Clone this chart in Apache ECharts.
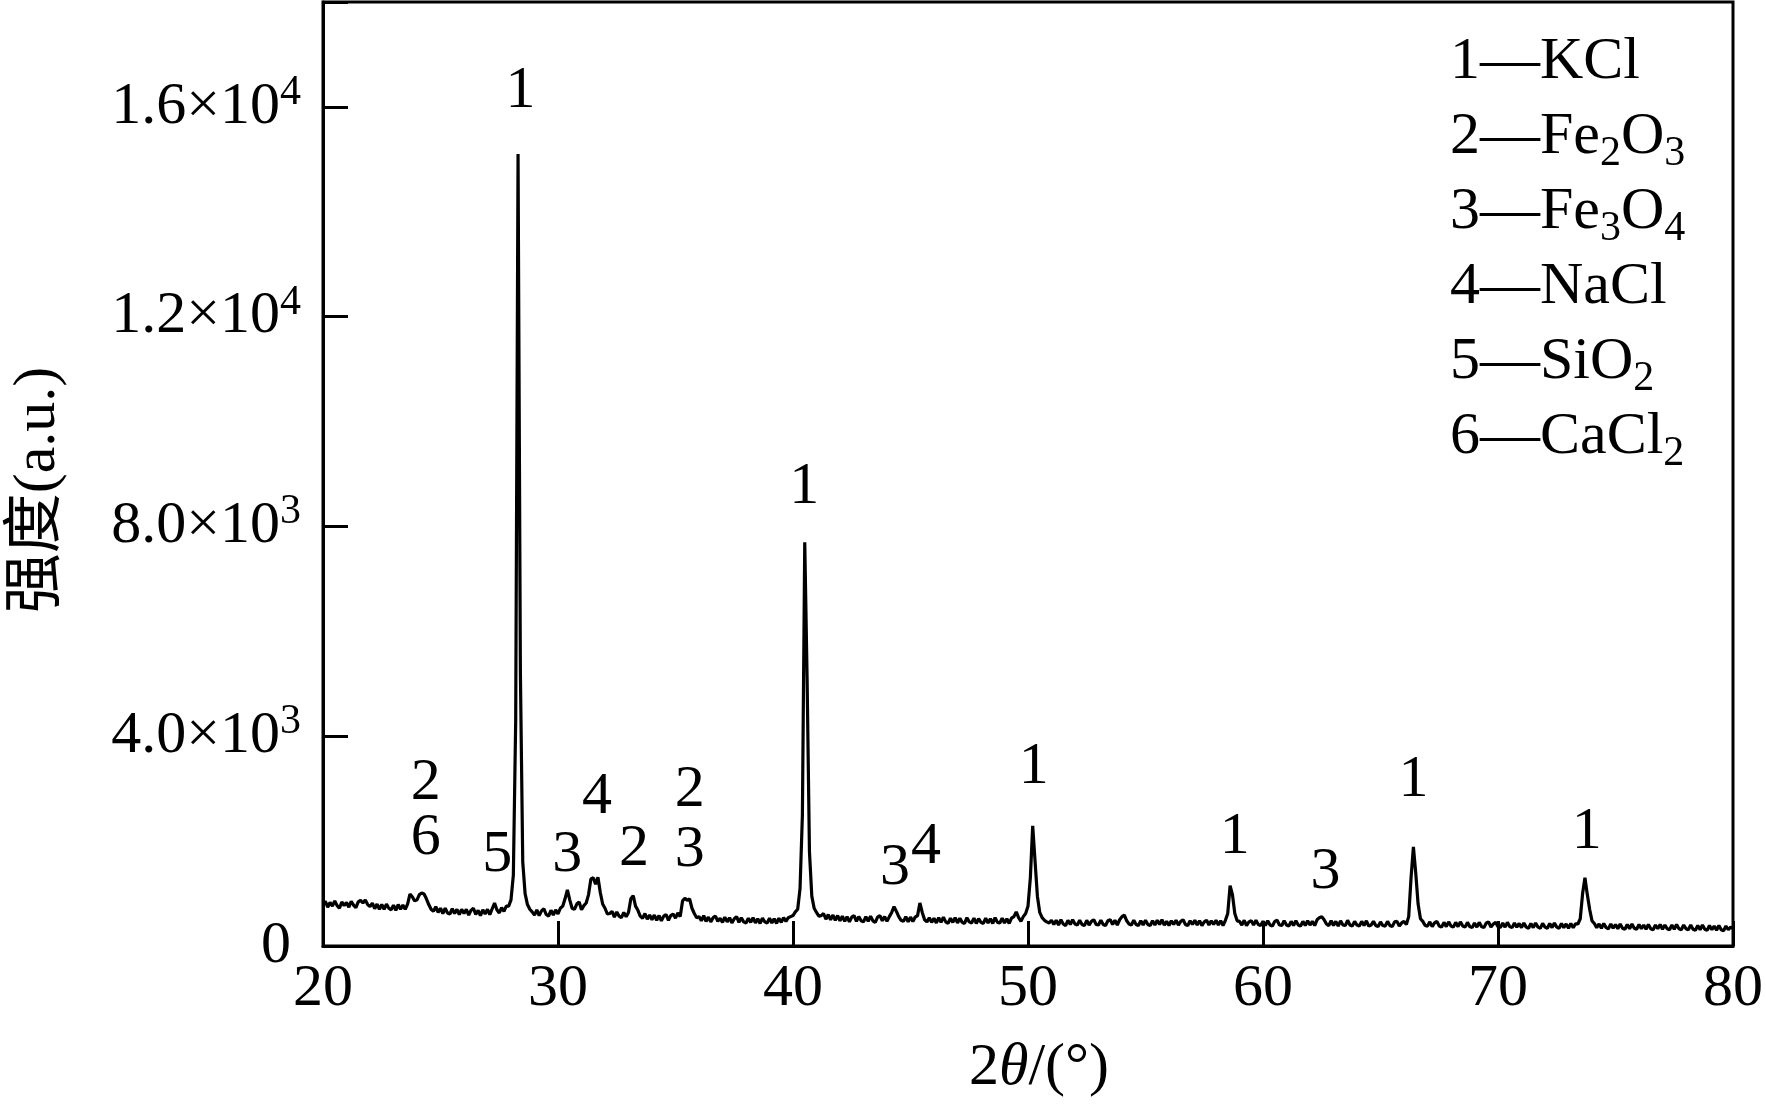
<!DOCTYPE html>
<html><head><meta charset="utf-8">
<script src="https://cdn.jsdelivr.net/npm/echarts@6/dist/echarts.min.js"></script>
<style>html,body{margin:0;padding:0;background:#fff}#c{width:1766px;height:1107px}</style>
</head><body><div id="c"></div><script>
// XRD scan: 2theta from 20 to 80 deg, step 0.1 deg
const scanStart = 20.0;
const scanStep = 0.1;
const counts = [
  800, 850, 740, 830, 760, 860, 770, 720, 840, 770,
  830, 740, 850, 780, 730, 840, 870, 820, 880, 790,
  750, 820, 710, 800, 700, 790, 700, 800, 720, 690,
  780, 680, 790, 700, 780, 700, 800, 990, 940, 860,
  880, 980, 1010, 990, 900, 790, 700, 660, 750, 640,
  720, 620, 720, 630, 610, 710, 620, 700, 600, 700,
  620, 700, 590, 680, 720, 600, 680, 580, 690, 610,
  700, 600, 710, 820, 690, 630, 730, 660, 760, 760,
  880, 1350, 4300, 15100, 5200, 1600, 1000, 790, 700, 650,
  590, 690, 580, 670, 710, 600, 570, 680, 590, 690,
  610, 720, 760, 900, 1070, 880, 720, 700, 800, 840,
  690, 770, 820, 980, 1280, 1300, 1180, 1310, 1020, 800,
  720, 610, 620, 660, 550, 650, 570, 540, 640, 560,
  640, 900, 960, 760, 680, 570, 530, 620, 510, 590,
  500, 590, 490, 580, 480, 570, 600, 490, 580, 610,
  530, 630, 560, 860, 910, 870, 900, 720, 620, 540,
  560, 480, 580, 470, 550, 460, 540, 570, 470, 530,
  450, 550, 460, 540, 440, 520, 560, 450, 540, 460,
  440, 530, 450, 540, 440, 520, 430, 530, 460, 440,
  530, 440, 520, 430, 530, 450, 540, 470, 540, 560,
  580, 650, 700, 1100, 2500, 7700, 5100, 1800, 950, 720,
  640, 570, 580, 620, 510, 600, 500, 590, 490, 580,
  480, 570, 470, 560, 460, 550, 580, 470, 560, 480,
  460, 560, 470, 570, 480, 450, 550, 580, 480, 560,
  470, 560, 640, 750, 660, 560, 490, 470, 560, 460,
  550, 470, 550, 580, 820, 640, 500, 460, 540, 450,
  530, 440, 540, 450, 550, 460, 430, 530, 450, 540,
  440, 530, 450, 430, 540, 460, 440, 530, 430, 520,
  450, 430, 530, 440, 520, 430, 540, 450, 440, 530,
  440, 520, 430, 530, 560, 650, 540, 470, 560, 620,
  760, 1300, 2290, 1620, 950, 640, 540, 490, 460, 440,
  490, 410, 490, 400, 500, 420, 390, 490, 410, 500,
  420, 400, 490, 410, 390, 490, 400, 470, 500, 410,
  400, 490, 410, 390, 480, 500, 410, 490, 400, 500,
  560, 590, 480, 420, 400, 490, 410, 390, 480, 400,
  490, 410, 390, 480, 400, 490, 410, 500, 400, 470,
  390, 480, 410, 490, 400, 470, 500, 410, 390, 480,
  410, 490, 400, 480, 390, 460, 490, 400, 480, 410,
  490, 400, 480, 390, 490, 620, 1150, 980, 620, 480,
  470, 400, 490, 390, 460, 480, 400, 490, 410, 390,
  470, 390, 480, 400, 380, 470, 490, 400, 390, 480,
  400, 380, 470, 390, 480, 400, 380, 470, 390, 480,
  400, 470, 390, 500, 540, 560, 500, 420, 390, 480,
  390, 470, 380, 480, 400, 390, 490, 400, 380, 470,
  400, 380, 470, 390, 480, 380, 400, 470, 390, 370,
  460, 390, 380, 470, 390, 370, 460, 470, 380, 440,
  470, 410, 560, 1300, 1890, 1390, 800, 520, 470, 390,
  380, 460, 370, 440, 470, 380, 360, 450, 370, 460,
  380, 360, 450, 370, 460, 380, 360, 450, 370, 350,
  440, 360, 450, 370, 350, 440, 460, 360, 420, 450,
  370, 350, 440, 360, 450, 370, 350, 440, 360, 430,
  350, 440, 360, 340, 430, 350, 440, 360, 340, 430,
  360, 340, 430, 350, 440, 360, 340, 430, 350, 420,
  340, 430, 350, 420, 420, 520, 1000, 1300, 980, 700,
  480, 430, 350, 420, 340, 430, 350, 330, 420, 340,
  410, 330, 420, 340, 320, 410, 330, 420, 340, 320,
  410, 330, 400, 320, 410, 330, 310, 400, 330, 410,
  320, 400, 330, 310, 400, 320, 410, 330, 310, 400,
  330, 310, 400, 320, 300, 390, 310, 400, 320, 300,
  390, 310, 380, 300, 390, 310, 290, 380, 310, 360,
  340
];

// axis ticks
const xTickValues = [20, 30, 40, 50, 60, 70, 80];
const yTickValues = [0, 4000, 8000, 12000, 16000];
const yTickMantissa = ['0', '4.0×10', '8.0×10', '1.2×10', '1.6×10'];
const yTickExponent = ['', '3', '3', '4', '4'];

// peak annotations (phase number, 2theta, intensity where the number sits)
const peakText  = ['1', '1', '1', '1', '1', '1', '2', '6', '5', '3', '4', '2', '2', '3', '3', '4', '3'];
const peakAngle = [28.40, 40.48, 50.24, 58.80, 66.40, 73.78, 24.37, 24.37, 27.42, 30.39, 31.66, 33.23, 35.61, 35.61, 44.34, 45.66, 62.66];
const peakLevel = [16290, 8750, 3410, 2080, 3170, 2170, 3110, 2060, 1735, 1735, 2840, 1850, 2975, 1830, 1490, 1890, 1410];

// phase legend
const phaseIds = ['1', '2', '3', '4', '5', '6'];
const phaseFormulas = ['KCl', 'Fe_2O_3', 'Fe_3O_4', 'NaCl', 'SiO_2', 'CaCl_2'];

const SERIF = '"Liberation Serif", "Times New Roman", "Noto Sans CJK SC", serif';

const scanData = counts.map((v, i) => [+(scanStart + i * scanStep).toFixed(2), v]);
const annotData = peakText.map((t, i) => ({ name: t, value: [peakAngle[i], peakLevel[i]] }));

function formulaRich(f) {
  return f.split(/(_\d)/).filter(s => s.length).map(s => s[0] === '_' ? '{b|' + s.slice(1) + '}' : '{n|' + s + '}').join('');
}
const legendText = phaseIds.map((id, i) => '{n|' + id + '—}' + formulaRich(phaseFormulas[i])).join('\n');

const chart = echarts.init(document.getElementById('c'), null, { renderer: 'canvas' });
chart.setOption({
  animation: false,
  backgroundColor: '#fff',
  grid: { left: 320, right: 32, top: 2, bottom: 161, show: true, borderColor: '#000', borderWidth: 3, containLabel: false },
  xAxis: {
    type: 'value', min: 20, max: 80, interval: 10,
    axisLine: { lineStyle: { color: '#000', width: 3 } },
    axisTick: { inside: true, length: 25, lineStyle: { color: '#000', width: 3 } },
    splitLine: { show: false },
    axisLabel: { margin: 13, color: '#000', fontFamily: SERIF, fontSize: 60, lineHeight: 60,
      formatter: v => xTickValues.indexOf(v) >= 0 ? String(v) : '' },
    name: '2{i|θ}/(°)', nameLocation: 'middle', nameGap: 92,
    nameTextStyle: { color: '#000', fontFamily: SERIF, fontSize: 60, lineHeight: 60, padding: [0, 0, 0, 22],
      rich: { i: { fontStyle: 'italic', fontFamily: SERIF, fontSize: 60, lineHeight: 60, color: '#000' } } }
  },
  yAxis: {
    type: 'value', min: 0, max: 18000, interval: 4000,
    axisLine: { lineStyle: { color: '#000', width: 3 } },
    axisTick: { inside: true, length: 25, lineStyle: { color: '#000', width: 3 } },
    splitLine: { show: false },
    axisLabel: { margin: 22, color: '#000', fontFamily: SERIF, fontSize: 60,
      formatter: v => {
        const k = yTickValues.indexOf(v);
        if (k < 0) return '';
        if (!yTickExponent[k]) return '{z|' + yTickMantissa[k] + '}';
        return '{m|' + yTickMantissa[k] + '}{s|' + yTickExponent[k] + '}';
      },
      rich: {
        m: { fontFamily: SERIF, fontSize: 60, lineHeight: 70, color: '#000' },
        s: { fontFamily: SERIF, fontSize: 42, lineHeight: 34, verticalAlign: 'top', color: '#000' },
        z: { fontFamily: SERIF, fontSize: 60, lineHeight: 70, color: '#000', padding: [0, 10, 0, 0] }
      }
    },
    name: '强度(a.u.)', nameLocation: 'middle', nameGap: 255, nameRotate: 90,
    nameTextStyle: { color: '#000', fontFamily: SERIF, fontSize: 60, lineHeight: 60, padding: [0, 32, 0, 0] }
  },
  graphic: [{
    type: 'text', left: 1450, top: 25,
    style: {
      text: legendText, fill: '#000', font: '60px ' + SERIF, lineHeight: 75,
      rich: {
        n: { fontFamily: SERIF, fontSize: 60, lineHeight: 75, fill: '#000' },
        b: { fontFamily: SERIF, fontSize: 42, lineHeight: 43, verticalAlign: 'bottom', fill: '#000' }
      }
    }
  }],
  series: [
    {
      type: 'line', data: scanData, showSymbol: false, symbol: 'none', smooth: false,
      lineStyle: { color: '#000', width: 3.2 }, z: 2
    },
    {
      type: 'scatter', data: annotData, symbolSize: 1, z: 3,
      itemStyle: { color: 'rgba(0,0,0,0)', opacity: 1 },
      emphasis: { disabled: true },
      label: { show: true, position: 'inside', formatter: p => p.name, color: '#000', opacity: 1,
        textBorderWidth: 0, fontFamily: SERIF, fontSize: 60 }
    }
  ]
});
</script></body></html>
